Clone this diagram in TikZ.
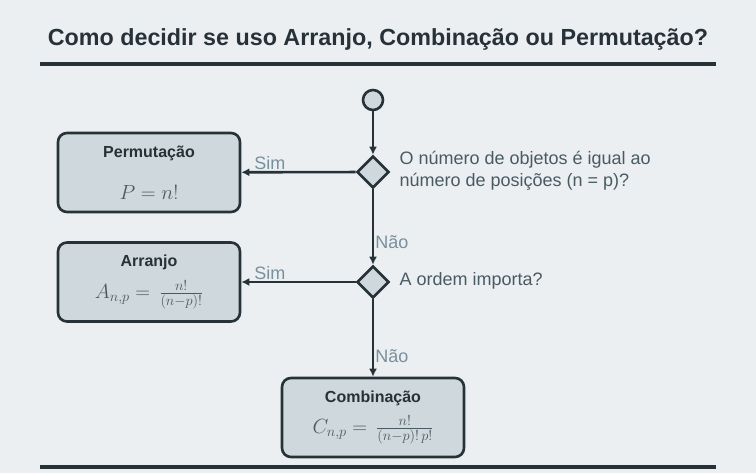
\RequirePackage{fix-cm}
\documentclass[tikz,border=0pt]{standalone}
\usepackage{fontspec}
\setmainfont{Liberation Sans}
\usepackage{amsmath}
\usetikzlibrary{arrows.meta,positioning,shapes.geometric}

\definecolor{bgcol}{HTML}{ECEFF2}
\definecolor{linecol}{HTML}{263238}
\definecolor{boxfill}{HTML}{CFD8DC}
\definecolor{labelcol}{HTML}{78909C}
\definecolor{textcol}{HTML}{4A5A63}

\begin{document}
\begin{tikzpicture}[
  x=1pt, y=-1pt,
  result/.style={draw=linecol, line width=2.6pt, rounded corners=9pt, fill=boxfill, minimum width=182pt, minimum height=79pt, align=center, text=linecol, font=\fontsize{16}{18}\selectfont},
  decision/.style={diamond, draw=linecol, line width=2.6pt, fill=boxfill, minimum width=32pt, minimum height=32pt, inner sep=0pt},
  startnode/.style={circle, draw=linecol, line width=2.6pt, fill=boxfill, minimum size=20pt, inner sep=0pt},
  arrow/.style={-{Latex[length=8pt,width=8pt]}, line width=2.6pt, draw=linecol},
  answer/.style={text=labelcol, font=\fontsize{18}{20}\selectfont, inner sep=1pt},
  question/.style={text=textcol, anchor=west, align=left, font=\fontsize{18}{22}\selectfont},
  rule/.style={draw=linecol, line width=4pt}
]
\fill[bgcol] (0,0) rectangle (756,473);

% title
\node[font=\fontsize{23.3}{26}\selectfont\bfseries, text=linecol] (title) at (378,39) {Como decidir se uso Arranjo, Combinação ou Permutação?};
\coordinate (topl) at (40,64);
\coordinate (topr) at (716,64);
\coordinate (botl) at (40,467);
\coordinate (botr) at (716,467);
\draw[rule] (topl) -- (topr);
\draw[rule] (botl) -- (botr);

% flow
\node[startnode] (start) at (373,100) {};
\node[decision] (q1) at (373,172) {};
\node[decision] (q2) at (373,282) {};
\node[question] (q1text) at (396,171) {O número de objetos é igual ao\\número de posições (n = p)?};
\node[question] (q2text) at (396,281) {A ordem importa?};

\node[result] (perm) at (149,172.5) {\textbf{Permutação}\\[24pt] {\color{textcol}\fontsize{20.5}{22}\selectfont $P = n!$}};
\node[result] (arr) at (149,282) {\textbf{Arranjo}\\[9pt] {\color{textcol}\fontsize{20.5}{22}\selectfont $A_{n,p} = \,\frac{n!}{(n-p)!}$}};
\node[result] (comb) at (373,417.5) {\textbf{Combinação}\\[9pt] {\color{textcol}\fontsize{20.5}{22}\selectfont $C_{n,p} = \,\frac{n!}{(n-p)!\,p!}$}};

\draw[arrow] (start) -- (q1);
\draw[arrow] (q1) -- node[answer, pos=0.7, anchor=west] {Não} (q2);
\draw[arrow] (q2) -- node[answer, pos=0.74, anchor=west] {Não} (comb);
\draw[arrow] (q1) -- node[answer, pos=0.75, above] {Sim} (perm);
\draw[arrow] (q2) -- node[answer, pos=0.75, above] {Sim} (arr);
\end{tikzpicture}
\end{document}
